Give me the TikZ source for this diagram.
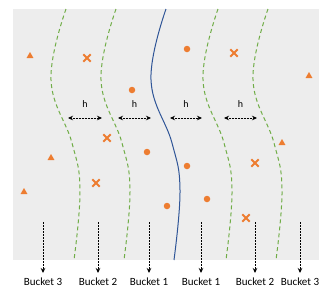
\documentclass[tikz,border=0pt]{standalone}
\usepackage{fontspec}
\setmainfont{Carlito}
\usetikzlibrary{arrows.meta,shapes.geometric,shapes.misc}
\definecolor{bg}{HTML}{EDEDED}
\definecolor{grn}{HTML}{70AD47}
\definecolor{blu}{HTML}{2F5597}
\definecolor{org}{HTML}{ED7D31}
\tikzset{
  bnd/.style={grn, line width=1pt, dash pattern=on 4pt off 3pt},
  mid/.style={blu, line width=1pt},
  harrow/.style={{Stealth[length=5pt,width=4.5pt]}-{Stealth[length=5pt,width=4.5pt]}, line width=0.7pt, dash pattern=on 1pt off 0.5pt},
  barrow/.style={-{Stealth[length=5pt,width=4.5pt]}, line width=0.9pt, dash pattern=on 2pt off 1pt},
  hlab/.style={font=\fontsize{10}{12}\selectfont, inner sep=0pt},
  blab/.style={font=\fontsize{11}{13}\selectfont, inner sep=0pt},
  dotm/.style={circle, fill=org, minimum size=6.5pt, inner sep=0pt},
  trim/.style={regular polygon, regular polygon sides=3, fill=org, minimum size=8pt, inner sep=0pt},
  crossm/.style={cross out, draw=org, line width=1.9pt, minimum size=5.5pt, inner sep=0pt},
}
\begin{document}
\begin{tikzpicture}[x=1pt,y=-1pt]
\useasboundingbox (0,0) rectangle (332,290);
\fill[bg] (13,9) rectangle (319,260);
% boundaries
\foreach \dx/\st in {0/bnd,50/bnd,152/bnd,202/bnd,100/mid}{
  \draw[\st, xshift=\dx pt] plot[smooth, tension=0.7] coordinates{(66,9) (51,80) (72,143) (80,190) (74,260)};
}
% markers
\node[dotm] (c1) at (132,90) {};
\node[dotm] (c2) at (187,49) {};
\node[dotm] (c3) at (147,152) {};
\node[dotm] (c4) at (187,166) {};
\node[dotm] (c5) at (167,206) {};
\node[dotm] (c6) at (207,199) {};
\node[trim] (t1) at (30,56) {};
\node[trim] (t2) at (51,158) {};
\node[trim] (t3) at (24,192) {};
\node[trim] (t4) at (309,76) {};
\node[trim] (t5) at (282,143) {};
\node[crossm] (x1) at (87,58) {};
\node[crossm] (x2) at (107,138) {};
\node[crossm] (x3) at (96,183) {};
\node[crossm] (x4) at (234,53) {};
\node[crossm] (x5) at (255,163) {};
\node[crossm] (x6) at (246,218) {};
% h arrows
\foreach \a/\b [count=\i] in {68/102,118/151,170/202,224/257}{
  \coordinate (ha\i) at (\a,118);
  \coordinate (hb\i) at (\b,118);
  \draw[harrow] (ha\i) -- (hb\i);
  \node[hlab] (h\i) at ({(\a+\b)/2},104) {h};
}
% buckets
\foreach \x/\t [count=\i] in {43/3,98/2,149/1,201/1,255/2,300/3}{
  \coordinate (bs\i) at (\x,222);
  \coordinate (be\i) at (\x,273);
  \draw[barrow] (bs\i) -- (be\i);
  \node[blab] (bl\i) at (\x,282) {Bucket \t};
}
\end{tikzpicture}
\end{document}
